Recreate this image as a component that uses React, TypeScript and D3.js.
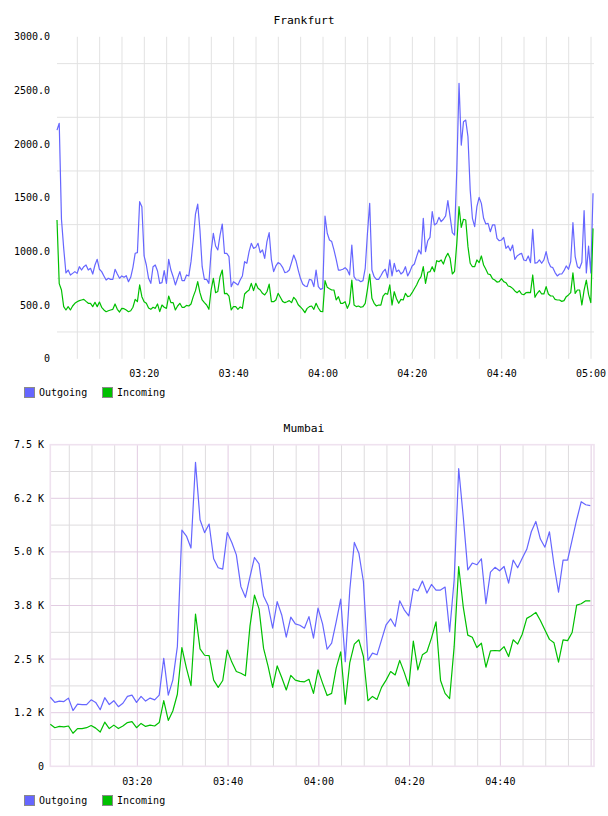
import React from "react";
import * as d3 from "d3";

// ---------- Data ----------
const seriesNames = ["Outgoing", "Incoming"];
const seriesColors = ["#6666ff", "#00c000"];

// Frankfurt: samples every 30 s starting 03:00:27
const frankfurtOutgoing = [
  2131, 2194, 1300, 1029, 800, 827, 780, 796, 812, 796,
  858, 827, 858, 874, 827, 843, 790, 874, 927, 834,
  812, 772, 734, 750, 740, 740, 834, 790, 750, 772,
  759, 774, 718, 759, 852, 983, 989, 1464, 1417, 958,
  874, 750, 703, 858, 874, 818, 703, 709, 821, 703,
  927, 827, 765, 688, 750, 812, 728, 728, 781, 772,
  905, 1107, 1349, 1442, 1200, 858, 740, 740, 703, 998,
  1169, 1051, 1014, 1153, 1256, 983, 983, 952, 672, 718,
  703, 688, 734, 772, 905, 890, 998, 1076, 1029, 1039,
  1076, 989, 1014, 936, 1092, 1175, 921, 812, 865, 896,
  883, 852, 803, 809, 827, 896, 967, 914, 827, 750,
  697, 678, 672, 740, 734, 672, 827, 672, 647, 656,
  1330, 1170, 1107, 1092, 1014, 927, 827, 827, 834, 849,
  827, 781, 1060, 765, 734, 734, 718, 728, 843, 1169,
  1448, 827, 765, 740, 740, 774, 812, 834, 756, 921,
  772, 890, 812, 827, 790, 809, 858, 772, 812, 865,
  883, 952, 1014, 976, 1309, 998, 1100, 1131, 1371, 1247,
  1262, 1318, 1278, 1300, 1331, 1473, 1325, 1175, 1153, 1759,
  2566, 1991, 2209, 2224, 2069, 1573, 1309, 1231, 1417, 1504,
  1448, 1309, 1256, 1262, 1184, 1247, 1247, 1122, 1100, 1107,
  1131, 1029, 1051, 1007, 1060, 927, 958, 973, 983, 921,
  914, 958, 896, 1206, 890, 896, 921, 890, 921, 998,
  905, 858, 849, 803, 772, 790, 790, 821, 865, 834,
  905, 1268, 952, 858, 843, 900, 1380, 800, 1050, 800,
  1542,
];
const frankfurtIncoming = [
  1293, 700, 641, 486, 455, 486, 455, 492, 517, 532,
  542, 548, 554, 535, 517, 517, 486, 526, 486, 529,
  480, 455, 439, 448, 455, 461, 511, 461, 436, 470,
  467, 455, 439, 448, 480, 554, 532, 688, 579, 532,
  517, 473, 461, 480, 470, 511, 439, 501, 480, 470,
  585, 523, 523, 455, 492, 517, 480, 480, 498, 492,
  511, 579, 635, 719, 616, 548, 523, 501, 461, 641,
  750, 616, 628, 765, 827, 607, 610, 585, 455, 486,
  486, 461, 483, 470, 604, 625, 641, 703, 635, 703,
  657, 641, 610, 595, 625, 696, 532, 532, 548, 610,
  573, 535, 523, 532, 542, 523, 573, 548, 504, 483,
  461, 430, 470, 486, 492, 461, 517, 473, 442, 439,
  728, 666, 653, 641, 641, 548, 579, 517, 517, 532,
  470, 517, 734, 501, 486, 492, 480, 486, 517, 647,
  790, 563, 517, 492, 501, 501, 585, 610, 601, 688,
  501, 625, 560, 517, 554, 548, 610, 579, 585, 616,
  653, 688, 734, 765, 858, 703, 806, 812, 858, 812,
  914, 905, 921, 883, 945, 983, 936, 790, 815, 1076,
  1417, 1225, 1300, 1293, 1045, 890, 858, 858, 921, 896,
  958, 874, 834, 790, 784, 746, 734, 715, 719, 746,
  719, 709, 678, 672, 656, 632, 616, 635, 604, 597,
  616, 619, 616, 781, 573, 610, 635, 604, 604, 672,
  604, 585, 585, 554, 548, 548, 535, 542, 579, 595,
  616, 800, 610, 641, 641, 501, 640, 734, 600, 523,
  1215,
];

// Mumbai: samples every 60 s starting 03:00:49
const mumbaiOutgoing = [
  1610, 1490, 1520, 1510, 1590, 1300, 1450, 1440, 1440, 1550,
  1490, 1320, 1600, 1440, 1530, 1390, 1470, 1630, 1660, 1490,
  1630, 1520, 1590, 1550, 1660, 2520, 1660, 2010, 2790, 5510,
  5370, 5090, 7090, 5750, 5450, 5650, 4840, 4630, 4600, 5450,
  5220, 4930, 4190, 3940, 4420, 4870, 4720, 3970, 3750, 3220,
  3840, 3530, 3010, 3480, 3320, 3290, 3220, 3490, 2990, 3690,
  3320, 2730, 2870, 3370, 3900, 2440, 4110, 5220, 4970, 4310,
  2470, 2640, 2600, 2950, 3300, 3440, 3260, 3860, 3650, 3510,
  4140, 4090, 4320, 4040, 4240, 4110, 4110, 4180, 3140, 4350,
  6940, 5820, 4580, 4740, 4700, 4840, 3790, 4530, 4640, 4560,
  4660, 4270, 4810, 4630, 4850, 5060, 5470, 5710, 5300, 5110,
  5470, 4700, 4060, 4810, 4810, 5280, 5750, 6170, 6100, 6080,
];
const mumbaiIncoming = [
  980, 900, 930, 920, 940, 770, 880, 880, 900, 950,
  890, 800, 1030, 880, 960, 880, 940, 1020, 1040, 900,
  1000, 930, 960, 940, 1020, 1530, 1070, 1290, 1680, 2770,
  2290, 1880, 3550, 2740, 2590, 2580, 2010, 1840, 2000, 2710,
  2430, 2210, 2170, 2110, 3270, 3990, 3670, 2750, 2330, 1840,
  2340, 2070, 1780, 2120, 2010, 1980, 1970, 2030, 1700, 2250,
  1940, 1650, 1700, 2290, 2670, 1450, 2420, 2850, 2950, 2560,
  1530, 1630, 1560, 1840, 2010, 2210, 2130, 2470, 2190, 1870,
  2920, 2250, 2600, 2670, 2990, 3370, 2000, 1700, 1580, 2790,
  4660, 3720, 3060, 3010, 2770, 2870, 2310, 2690, 2700, 2690,
  2790, 2560, 2950, 2850, 3080, 3450, 3510, 3590, 3400, 3180,
  2960, 2880, 2430, 2950, 2930, 3120, 3760, 3790, 3860, 3860,
];

const frankfurtYTicks = [0, 500, 1000, 1500, 2000, 2500, 3000];
const frankfurtYLabels = ["0", "500.0", "1000.0", "1500.0", "2000.0", "2500.0", "3000.0"];
const mumbaiYTicks = [0, 1250, 2500, 3750, 5000, 6250, 7500];
const mumbaiYLabels = ["0", "1.2 K", "2.5 K", "3.8 K", "5.0 K", "6.2 K", "7.5 K"];

const T = (h: number, m: number, s: number) => new Date(Date.UTC(2000, 0, 1, h, m, s));

const MONO = "'DejaVu Sans Mono', monospace";
const fmt = d3.utcFormat("%H:%M");

type ChartProps = {
  title: string;
  titleY: number;
  out: number[];
  inc: number[];
  start: Date;
  stepSec: number;
  xDomain: [Date, Date];
  xRange: [number, number];
  yMax: number;
  yRange: [number, number];
  yTicks: number[];
  yLabels: string[];
  yLabelX: number;
  xLabelY: number;
  legendY: number;
  framed: boolean;
};

function Chart(p: ChartProps) {
  const x = d3.scaleUtc().domain(p.xDomain).range(p.xRange);
  const y = d3.scaleLinear().domain([0, p.yMax]).range(p.yRange);
  const [x0, x1] = p.xRange;
  const [yb, yt] = p.yRange;
  const tAt = (i: number) => new Date(p.start.getTime() + i * p.stepSec * 1000);
  const line = d3
    .line<number>()
    .x((_, i) => x(tAt(i)))
    .y((d) => y(d));
  const minorTicks = d3.utcMinute.every(5)!.range(p.xDomain[0], p.xDomain[1]);
  const labelTicks = minorTicks.filter(
    (t) => t.getUTCMinutes() % 20 === 0 && x(t) < x1 - 1 + (p.framed ? -4 : 4)
  );
  const step = p.yTicks[1] - p.yTicks[0];
  const halfTicks = p.yTicks.slice(0, -1).map((v) => v + step / 2);
  const gray = p.framed ? "#dedcde" : "#e2e2e2";
  const purple = "#e2cce2";

  return (
    <g>
      <text x={304} y={p.titleY} textAnchor="middle" fontFamily={MONO} fontSize={11.3} fill="#000">
        {p.title}
      </text>
      {/* vertical grid */}
      {minorTicks.map((t, i) => {
        const major = p.framed && t.getUTCMinutes() % 20 === 0;
        return (
          <line
            key={"v" + i}
            x1={x(t)}
            x2={x(t)}
            y1={yt}
            y2={yb}
            stroke={major ? purple : gray}
            strokeWidth={1}
          />
        );
      })}
      {/* horizontal grid */}
      {halfTicks.map((v, i) => (
        <line key={"h" + i} x1={x0} x2={x1} y1={y(v)} y2={y(v)} stroke={gray} strokeWidth={1} />
      ))}
      {p.framed &&
        p.yTicks.slice(1, -1).map((v, i) => (
          <line key={"hm" + i} x1={x0} x2={x1} y1={y(v)} y2={y(v)} stroke={purple} strokeWidth={1} />
        ))}
      {p.framed && (
        <rect x={x0} y={yt} width={x1 - x0} height={yb - yt} fill="none" stroke="#efe2ef" strokeWidth={1.6} />
      )}
      {/* series */}
      <path d={line(p.out) || ""} fill="none" stroke={seriesColors[0]} strokeWidth={1.2} strokeLinejoin="round" />
      <path d={line(p.inc) || ""} fill="none" stroke={seriesColors[1]} strokeWidth={1.2} strokeLinejoin="round" />
      {/* y labels */}
      {p.yTicks.map((v, i) => (
        <text
          key={"yl" + i}
          x={p.yLabelX}
          y={y(v)}
          dy="0.35em"
          textAnchor="end"
          fontFamily={MONO}
          fontSize={10}
          fill="#000"
        >
          {p.yLabels[i]}
        </text>
      ))}
      {/* x labels */}
      {labelTicks.map((t, i) => (
        <text
          key={"xl" + i}
          x={x(t)}
          y={p.xLabelY}
          textAnchor="middle"
          fontFamily={MONO}
          fontSize={10}
          fill="#000"
        >
          {fmt(t)}
        </text>
      ))}
      {/* legend */}
      {seriesNames.map((n, i) => (
        <g key={"lg" + i} transform={`translate(${24 + i * 78},${p.legendY})`}>
          <rect x={0.5} y={0.5} width={10} height={10} fill={seriesColors[i]} stroke="#8a8a8a" strokeWidth={1} />
          <text x={15} y={9} fontFamily={MONO} fontSize={10} fill="#000">
            {n}
          </text>
        </g>
      ))}
    </g>
  );
}

export default function App() {
  return (
    <svg
      width={608}
      height={816}
      style={{ position: "absolute", left: 0, top: 0, background: "#fff" }}
    >
      <rect width={608} height={816} fill="#fff" />
      <Chart
        title="Frankfurt"
        titleY={24}
        out={frankfurtOutgoing}
        inc={frankfurtIncoming}
        start={T(3, 0, 27)}
        stepSec={30}
        xDomain={[T(3, 0, 27), T(5, 0, 40)]}
        xRange={[57, 594]}
        yMax={3000}
        yRange={[358.8, 36.8]}
        yTicks={frankfurtYTicks}
        yLabels={frankfurtYLabels}
        yLabelX={50}
        xLabelY={377}
        legendY={387}
        framed={false}
      />
      <Chart
        title="Mumbai"
        titleY={432}
        out={mumbaiOutgoing}
        inc={mumbaiIncoming}
        start={T(3, 0, 49)}
        stepSec={60}
        xDomain={[T(3, 0, 49), T(5, 0, 38)]}
        xRange={[50.3, 594]}
        yMax={7500}
        yRange={[766.3, 444.7]}
        yTicks={mumbaiYTicks}
        yLabels={mumbaiYLabels}
        yLabelX={44}
        xLabelY={785}
        legendY={795}
        framed={true}
      />
    </svg>
  );
}
